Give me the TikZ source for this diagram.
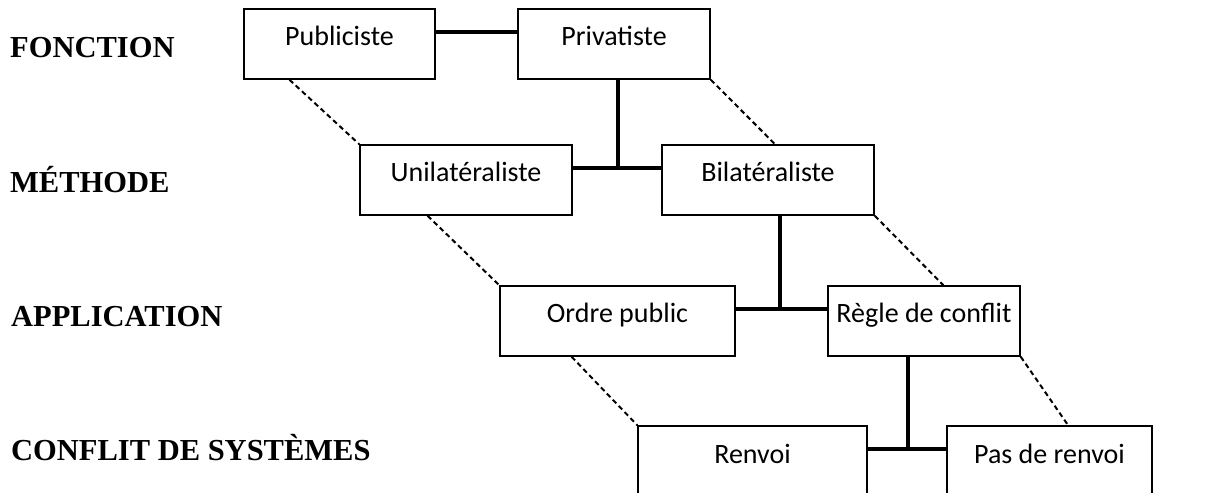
\documentclass[tikz,border=0pt]{standalone}
\usepackage{fontspec}
\setmainfont{Carlito}
\newfontfamily\lblfont{Liberation Serif}
\usetikzlibrary{calc}
\begin{document}
\begin{tikzpicture}[x=1bp,y=-1bp,
  box/.style={draw, line width=1.5bp, inner sep=0pt, minimum height=70bp,
    text height=18bp, text depth=14bp, font=\fontsize{28bp}{32bp}\selectfont},
  thickline/.style={line width=4bp},
  dashline/.style={line width=2bp, dash pattern=on 5bp off 3.5bp},
  lbl/.style={anchor=base west, inner sep=0pt,
    font=\lblfont\bfseries\fontsize{30.5bp}{36bp}\selectfont}]
\useasboundingbox (0,0) rectangle (1225,493);

% row labels
\node[lbl] (lf) at (10,58) {FONCTION};
\node[lbl] (lm) at (10,193) {MÉTHODE};
\node[lbl] (la) at (11,327) {APPLICATION};
\node[lbl] (lc) at (11,460) {CONFLIT DE SYSTÈMES};

% boxes
\node[box, minimum width=191bp] (pub) at (339.5,44) {Publiciste};
\node[box, minimum width=192bp] (priv) at (614,44) {Privatiste};
\node[box, minimum width=212bp] (uni) at (466,180) {Unilatéraliste};
\node[box, minimum width=212bp] (bil) at (768,180) {Bilatéraliste};
\node[box, minimum width=235bp] (ordre) at (617.5,321) {Ordre public};
\node[box, minimum width=192bp] (regle) at (924,321) {Règle de conflit};
\node[box, minimum width=229bp] (renvoi) at (752.5,461) {Renvoi};
\node[box, minimum width=205bp] (pas) at (1049.5,461) {Pas de renvoi};

% junction points
\coordinate (j1) at (618,168);
\coordinate (j2) at (780,309);
\coordinate (j3) at (908,449);

% thick connectors
\draw[thickline] ([yshift=12bp]pub.east) -- ([yshift=12bp]priv.west);
\draw[thickline] ([yshift=12bp]uni.east) -- ([yshift=12bp]bil.west);
\draw[thickline] (priv.south -| j1) -- (j1);
\draw[thickline] ([yshift=12bp]ordre.east) -- ([yshift=12bp]regle.west);
\draw[thickline] (bil.south -| j2) -- (j2);
\draw[thickline] ([yshift=12bp]renvoi.east) -- ([yshift=12bp]pas.west);
\draw[thickline] (regle.south -| j3) -- (j3);

% dashed connectors
\draw[dashline] ($(pub.south west)!0.24!(pub.south east)$) -- (uni.north west);
\draw[dashline] ($(uni.south west)!0.32!(uni.south east)$) -- (ordre.north west);
\draw[dashline] ($(ordre.south west)!0.306!(ordre.south east)$) -- (renvoi.north west);
\draw[dashline] (priv.south east) -- ($(bil.north west)!0.533!(bil.north east)$);
\draw[dashline] (bil.south east) -- ($(regle.north west)!0.6!(regle.north east)$);
\draw[dashline] (regle.south east) -- ($(pas.north west)!0.59!(pas.north east)$);
\end{tikzpicture}
\end{document}
